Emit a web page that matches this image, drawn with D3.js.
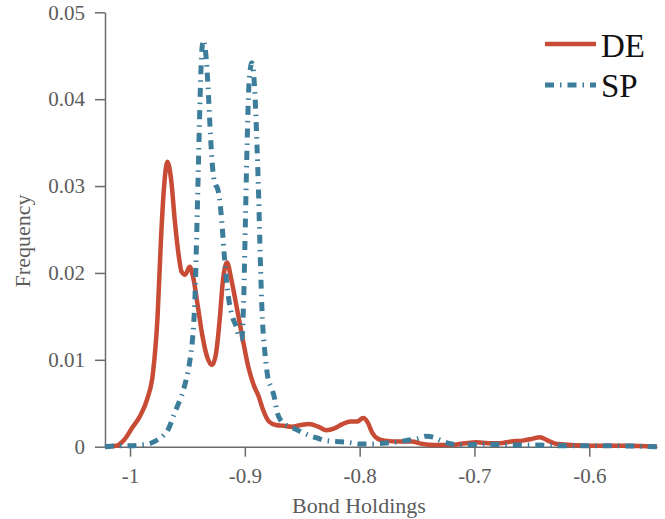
<!DOCTYPE html>
<html>
<head>
<meta charset="utf-8">
<script src="https://cdn.jsdelivr.net/npm/d3@7"></script>
<style>
html,body{margin:0;padding:0;background:#fff;}
svg{display:block;}
</style>
</head>
<body>
<svg id="chart" width="665" height="519"></svg>
<script>
const seriesNames = ["DE", "SP"];
const xTicks = [-1, -0.9, -0.8, -0.7, -0.6];
const yTicks = [0, 0.01, 0.02, 0.03, 0.04, 0.05];

const deX = [-1.0218,-1.012,-1.005,-0.998,-0.991,-0.985,-0.980,-0.976,-0.973,-0.970,-0.9675,-0.964,-0.961,-0.958,-0.955,-0.952,-0.948,-0.945,-0.941,-0.937,-0.933,-0.9285,-0.925,-0.922,-0.919,-0.9155,-0.912,-0.907,-0.902,-0.897,-0.892,-0.888,-0.884,-0.879,-0.873,-0.866,-0.859,-0.851,-0.844,-0.836,-0.829,-0.822,-0.815,-0.808,-0.802,-0.797,-0.793,-0.789,-0.784,-0.778,-0.765,-0.755,-0.745,-0.735,-0.72,-0.708,-0.698,-0.688,-0.678,-0.668,-0.658,-0.650,-0.643,-0.636,-0.628,-0.615,-0.600,-0.57,-0.541];
const deY = [0,0.0001,0.0008,0.0022,0.0036,0.0055,0.0085,0.015,0.024,0.0305,0.0328,0.0305,0.026,0.0224,0.0201,0.0198,0.0207,0.0195,0.0162,0.0128,0.0104,0.0094,0.0108,0.0145,0.0192,0.0212,0.0194,0.0160,0.0125,0.0092,0.0070,0.0058,0.0042,0.0029,0.0025,0.0024,0.0023,0.0025,0.0026,0.0023,0.0019,0.0021,0.0026,0.0029,0.0029,0.0033,0.0028,0.0016,0.0009,0.0007,0.0006,0.0006,0.0003,0.0002,0.0002,0.0004,0.0005,0.0004,0.0004,0.0006,0.0007,0.0009,0.0011,0.0007,0.0003,0.0002,0.0001,0.0001,0];

const spX = [-1.0218,-1.012,-1.0,-0.99,-0.982,-0.976,-0.971,-0.966,-0.962,-0.958,-0.955,-0.951,-0.948,-0.9455,-0.9435,-0.942,-0.9405,-0.939,-0.9375,-0.936,-0.9345,-0.933,-0.9315,-0.930,-0.928,-0.926,-0.924,-0.922,-0.920,-0.918,-0.9155,-0.912,-0.908,-0.904,-0.9025,-0.901,-0.8995,-0.898,-0.8965,-0.895,-0.894,-0.8925,-0.891,-0.8895,-0.888,-0.8865,-0.885,-0.8825,-0.880,-0.877,-0.8745,-0.8715,-0.868,-0.863,-0.857,-0.851,-0.844,-0.837,-0.829,-0.82,-0.81,-0.80,-0.79,-0.78,-0.77,-0.76,-0.75,-0.742,-0.736,-0.729,-0.72,-0.71,-0.69,-0.67,-0.65,-0.62,-0.58,-0.541];
const spY = [0,0.0001,0.0001,0.0002,0.0004,0.0008,0.0013,0.0022,0.0036,0.0049,0.0059,0.0078,0.0098,0.0125,0.017,0.024,0.032,0.040,0.0455,0.0468,0.0458,0.0435,0.040,0.036,0.032,0.0302,0.0298,0.0285,0.0258,0.0222,0.0185,0.0155,0.0140,0.0124,0.0125,0.0170,0.026,0.035,0.0415,0.0437,0.0442,0.0432,0.040,0.035,0.029,0.0215,0.0155,0.0108,0.0080,0.0068,0.0058,0.0038,0.0029,0.0024,0.0021,0.0017,0.0013,0.0010,0.0007,0.0006,0.0005,0.0003,0.0003,0.0004,0.0005,0.0007,0.0009,0.0012,0.0011,0.0007,0.0003,0.0002,0.0003,0.0002,0.0002,0.0001,0.0001,0];

const svg = d3.select("#chart");
const x = d3.scaleLinear().domain([-1.0218, -0.541]).range([105, 657]);
const y = d3.scaleLinear().domain([0, 0.05]).range([446.7, 12.3]);

const axisColor = "#6b6b6b";
const labelColor = "#5c5c5c";
const font = "'Liberation Serif', 'Times New Roman', serif";

const xAxis = svg.append("g").attr("transform", "translate(0,446.7)")
  .call(d3.axisBottom(x).tickValues(xTicks).tickFormat(d => String(d)).tickSize(10).tickSizeOuter(0).tickPadding(11));
const yAxis = svg.append("g").attr("transform", "translate(105,0)")
  .call(d3.axisLeft(y).tickValues(yTicks).tickFormat(d => String(+d.toFixed(2))).tickSize(10).tickSizeOuter(0).tickPadding(10));

[xAxis, yAxis].forEach(g => {
  g.select(".domain").attr("stroke", axisColor).attr("stroke-width", 1.5);
  g.selectAll(".tick line").attr("stroke", axisColor).attr("stroke-width", 1.5);
  g.selectAll(".tick text").attr("fill", labelColor).style("font-family", font).style("font-size", "21px");
});

svg.append("text").attr("x", 359).attr("y", 513).attr("text-anchor", "middle")
  .attr("fill", labelColor).style("font-family", font).style("font-size", "22px").text("Bond Holdings");
svg.append("text").attr("transform", "translate(30,241) rotate(-90)").attr("text-anchor", "middle")
  .attr("fill", labelColor).style("font-family", font).style("font-size", "22px").text("Frequency");

const line = d3.line().x(d => x(d[0])).y(d => y(d[1])).curve(d3.curveMonotoneX);
const deData = deX.map((v, i) => [v, deY[i]]);
const spData = spX.map((v, i) => [v, spY[i]]);

const red = "#c84b35";
const blue = "#3b7d9b";
const dash = "9,6,1.5,6";

svg.append("path").datum(deData).attr("d", line).attr("fill", "none")
  .attr("stroke", red).attr("stroke-width", 4.5).attr("stroke-linejoin", "round");
svg.append("path").datum(spData).attr("d", line).attr("fill", "none")
  .attr("stroke", blue).attr("stroke-width", 5).attr("stroke-dasharray", dash);

// legend
const legend = svg.append("g");
const legItems = [{name: seriesNames[0], color: red, dash: null, w: 4.5, ly: 44, ty: 57},
                  {name: seriesNames[1], color: blue, dash: dash, w: 5, ly: 85, ty: 97}];
legItems.forEach(it => {
  legend.append("line").attr("x1", 545).attr("x2", 596).attr("y1", it.ly).attr("y2", it.ly)
    .attr("stroke", it.color).attr("stroke-width", it.w).attr("stroke-dasharray", it.dash);
  legend.append("text").attr("x", 601).attr("y", it.ty).attr("fill", "#111")
    .style("font-family", font).style("font-size", "33px").text(it.name);
});
</script>
</body>
</html>
